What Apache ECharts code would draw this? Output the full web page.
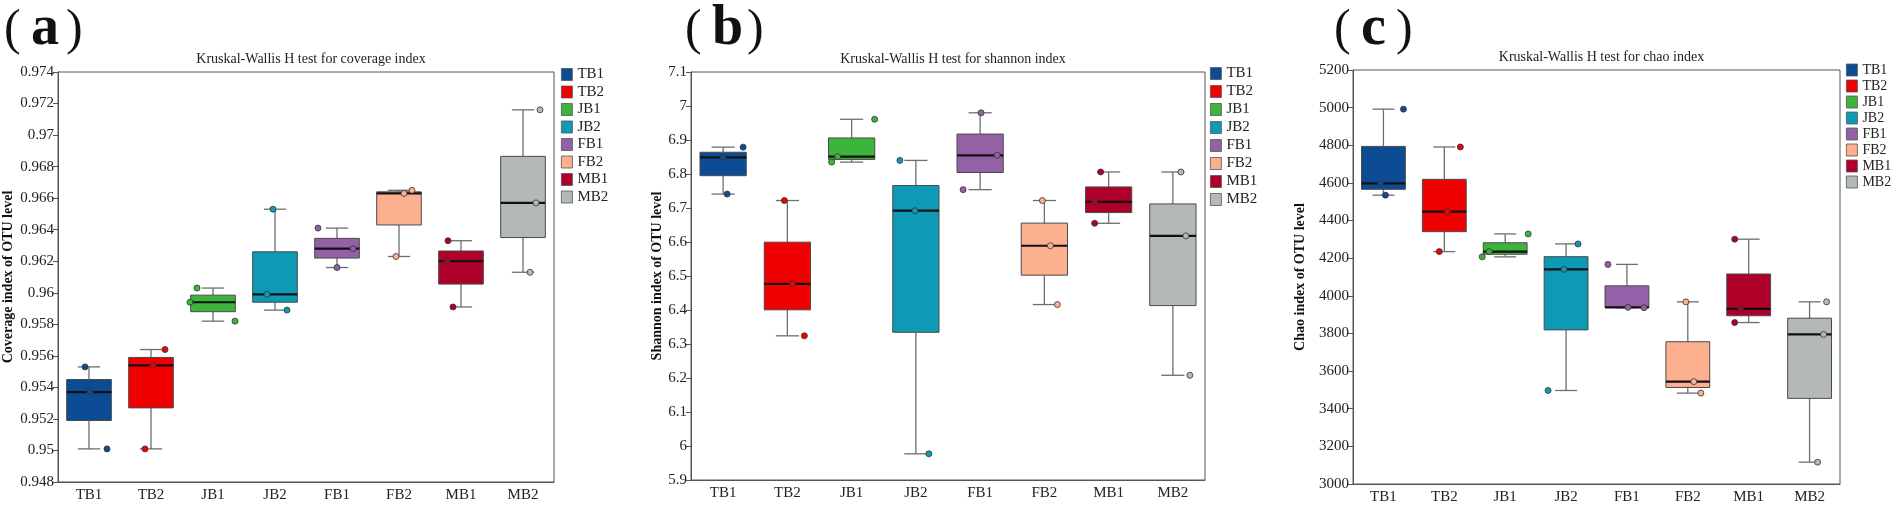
<!DOCTYPE html>
<html>
<head>
<meta charset="utf-8">
<title>Kruskal-Wallis H test</title>
<script src="https://cdn.jsdelivr.net/npm/echarts@6/dist/echarts.min.js"></script>
<style>
  html, body { margin: 0; padding: 0; background: #fff; }
  #main { width: 1901px; height: 507px; }
</style>
</head>
<body>
<div id="main"></div>
<script>
// groups shown on every x axis
var groups = ["TB1", "TB2", "JB1", "JB2", "FB1", "FB2", "MB1", "MB2"];

// box values: [min, Q1, median, Q3, max]
var coverageBox = [
  [0.9501, 0.9519, 0.9537, 0.9545, 0.9553],
  [0.9501, 0.9527, 0.9554, 0.9559, 0.9564],
  [0.9582, 0.9588, 0.9594, 0.95985, 0.9603],
  [0.9589, 0.9594, 0.9599, 0.9626, 0.9653],
  [0.9616, 0.9622, 0.9628, 0.96345, 0.9641],
  [0.9623, 0.9643, 0.9663, 0.9664, 0.9665],
  [0.9591, 0.96055, 0.9620, 0.96265, 0.9633],
  [0.9613, 0.9635, 0.9657, 0.96865, 0.9716]
];
// single samples (3 per group)
var coveragePoints = [
  [0.9501, 0.9537, 0.9553],
  [0.9501, 0.9554, 0.9564],
  [0.9582, 0.9594, 0.9603],
  [0.9589, 0.9599, 0.9653],
  [0.9616, 0.9628, 0.9641],
  [0.9623, 0.9663, 0.9665],
  [0.9591, 0.9620, 0.9633],
  [0.9613, 0.9657, 0.9716]
];

var shannonBox = [
  [6.741, 6.795, 6.849, 6.864, 6.879],
  [6.324, 6.4005, 6.477, 6.5995, 6.722],
  [6.835, 6.843, 6.851, 6.906, 6.961],
  [5.977, 6.3345, 6.692, 6.766, 6.840],
  [6.754, 6.8045, 6.855, 6.9175, 6.980],
  [6.416, 6.5025, 6.589, 6.6555, 6.722],
  [6.655, 6.6865, 6.718, 6.762, 6.806],
  [6.208, 6.413, 6.618, 6.712, 6.806]
];
var shannonPoints = [
  [6.741, 6.849, 6.879],
  [6.324, 6.477, 6.722],
  [6.835, 6.851, 6.961],
  [5.977, 6.692, 6.840],
  [6.754, 6.855, 6.980],
  [6.416, 6.589, 6.722],
  [6.655, 6.718, 6.806],
  [6.208, 6.618, 6.806]
];

var chaoBox = [
  [4535, 4566, 4597, 4794, 4992],
  [4235, 4341, 4447, 4619, 4791],
  [4207, 4221, 4235, 4282, 4329],
  [3497, 3819, 4141, 4208, 4276],
  [3937, 3938, 3939, 4053, 4167],
  [3483, 3513, 3544, 3756, 3968],
  [3858, 3894, 3931, 4116, 4301],
  [3116, 3455, 3795, 3881, 3968]
];
var chaoPoints = [
  [4535, 4597, 4992],
  [4235, 4447, 4791],
  [4207, 4235, 4329],
  [3497, 4141, 4276],
  [3937, 3939, 4167],
  [3483, 3544, 3968],
  [3858, 3931, 4301],
  [3116, 3795, 3968]
];

// y axis ticks
var coverageTicks = { min: 0.948, max: 0.974, interval: 0.002 };
var shannonTicks = { min: 5.9, max: 7.1, interval: 0.1 };
var chaoTicks = { min: 3000, max: 5200, interval: 200 };

// --- styling ---
var palette = ["#0b4c94", "#f00000", "#3db53d", "#0e9ab4", "#9460a8", "#fcb08f", "#ae0029", "#b3b9b9"];
// horizontal jitter of the sample dots, px
var coverageJitter = [[18, 1, -4], [-6, 2, 14], [22, -23, -16], [12, -8, -2], [0, 16, -19], [-3, 5, 13], [-8, -14, -13], [7, 13, 17]];
var shannonJitter = [[4, 0, 20], [17, 5, -3], [-20, -14, 23], [13, -1, -16], [-17, 17, 1], [13, 6, -2], [-14, -14, -8], [17, 13, 8]];
var chaoJitter = [[2, -3, 20], [-5, 3, 16], [-23, -16, 23], [-18, -2, 12], [17, 1, -19], [13, 6, -2], [-14, -8, -14], [8, 14, 17]];

var serif = "'Liberation Serif', 'DejaVu Serif', serif";
var axisColor = "#555";

var panels = [
  { title: "Kruskal-Wallis H test for coverage index", yName: "Coverage index of OTU level", nameGap: 43,
    box: coverageBox, points: coveragePoints, jitter: coverageJitter, ticks: coverageTicks, digits: 3,
    grid: { left: 58, top: 72, width: 496, height: 410 },
    legend: { left: 561, top: 67, gap: 2.5, size: 15 }, tag: "a", tagX: 4 },
  { title: "Kruskal-Wallis H test for shannon index", yName: "Shannon index of OTU level", nameGap: 24,
    box: shannonBox, points: shannonPoints, jitter: shannonJitter, ticks: shannonTicks, digits: 1,
    grid: { left: 691, top: 72, width: 514, height: 408 },
    legend: { left: 1210, top: 66, gap: 3, size: 15 }, tag: "b", tagX: 685 },
  { title: "Kruskal-Wallis H test for chao index", yName: "Chao index of OTU level", nameGap: 46,
    box: chaoBox, points: chaoPoints, jitter: chaoJitter, ticks: chaoTicks, digits: 0,
    grid: { left: 1353, top: 70, width: 487, height: 414 },
    legend: { left: 1846, top: 63, gap: 2, size: 14 }, tag: "c", tagX: 1334 }
];

function renderBox(params, api) {
  var i = api.value(0);
  var top = api.coord([i, api.value(5)]);
  var q3 = api.coord([i, api.value(4)])[1];
  var med = api.coord([i, api.value(3)])[1];
  var q1 = api.coord([i, api.value(2)])[1];
  var bot = api.coord([i, api.value(1)])[1];
  var x = top[0];
  var w = api.size([1, 0])[0] * 0.72;
  var cap = w * 0.25;
  function whisker() { return { stroke: "#6e6e6e", lineWidth: 1.3 }; }
  return {
    type: "group",
    children: [
      { type: "line", shape: { x1: x, y1: top[1], x2: x, y2: q3 }, style: whisker() },
      { type: "line", shape: { x1: x, y1: q1, x2: x, y2: bot }, style: whisker() },
      { type: "line", shape: { x1: x - cap, y1: top[1], x2: x + cap, y2: top[1] }, style: whisker() },
      { type: "line", shape: { x1: x - cap, y1: bot, x2: x + cap, y2: bot }, style: whisker() },
      { type: "rect", shape: { x: x - w / 2, y: q3, width: w, height: q1 - q3 },
        style: { fill: palette[params.dataIndex], stroke: "#4a4a4a", lineWidth: 1 } },
      { type: "line", shape: { x1: x - w / 2, y1: med, x2: x + w / 2, y2: med },
        style: { stroke: "#111", lineWidth: 2.2 } }
    ]
  };
}

var option = {
  animation: false,
  backgroundColor: "#fff",
  title: [],
  legend: [],
  grid: [],
  xAxis: [],
  yAxis: [],
  series: [],
  graphic: []
};

panels.forEach(function (p, k) {
  var g = p.grid;
  option.grid.push({ left: g.left, top: g.top, width: g.width, height: g.height,
    show: true, borderColor: axisColor, borderWidth: 1, backgroundColor: "transparent" });

  option.title.push({
    text: p.title, left: g.left + g.width / 2, top: g.top - 25, textAlign: "center",
    textStyle: { fontFamily: serif, fontSize: 14, fontWeight: "normal", color: "#222" }
  });

  option.xAxis.push({
    type: "category", gridIndex: k, data: groups,
    axisLine: { lineStyle: { color: axisColor, width: 1 } },
    axisTick: { alignWithLabel: true, length: 5, lineStyle: { color: axisColor } },
    axisLabel: { fontFamily: serif, fontSize: 15, color: "#222", margin: 6 },
    splitLine: { show: false }
  });

  option.yAxis.push({
    type: "value", gridIndex: k,
    min: p.ticks.min, max: p.ticks.max, interval: p.ticks.interval,
    name: p.yName, nameLocation: "middle", nameGap: p.nameGap,
    nameTextStyle: { fontFamily: serif, fontSize: 14, fontWeight: "bold", color: "#111" },
    axisLine: { show: true, lineStyle: { color: axisColor, width: 1 } },
    axisTick: { show: true, length: 5, lineStyle: { color: axisColor } },
    axisLabel: {
      fontFamily: serif, fontSize: 15, color: "#222", margin: 4,
      formatter: (function (d) { return function (v) { return String(+v.toFixed(d)); }; })(p.digits)
    },
    splitLine: { show: false }
  });

  option.series.push({
    type: "custom", xAxisIndex: k, yAxisIndex: k,
    renderItem: renderBox,
    encode: { x: 0, y: [1, 2, 3, 4, 5] },
    data: p.box.map(function (b, i) { return [i].concat(b); }),
    z: 2
  });

  var dots = [];
  p.points.forEach(function (vals, i) {
    vals.forEach(function (v, j) {
      dots.push({
        value: [i, v],
        symbolOffset: [p.jitter[i][j], 0],
        itemStyle: { color: palette[i] }
      });
    });
  });
  option.series.push({
    type: "scatter", xAxisIndex: k, yAxisIndex: k,
    symbol: "circle", symbolSize: 6,
    itemStyle: { borderColor: "#333", borderWidth: 0.8, opacity: 1 },
    data: dots, z: 4
  });

  option.legend.push({
    data: groups, orient: "vertical", left: p.legend.left, top: p.legend.top, padding: 0,
    icon: "rect", itemWidth: 11, itemHeight: 12, itemGap: p.legend.gap, itemTextGap: 2,
    selectedMode: false,
    itemStyle: { borderColor: "#555", borderWidth: 0.8 },
    textStyle: { fontFamily: serif, fontSize: p.legend.size, color: "#222" }
  });

  // panel tag "(a)" etc.
  option.graphic.push(
    { type: "text", left: p.tagX, top: 6, style: { text: "(", font: "normal 50px " + serif, fill: "#111" } },
    { type: "text", left: p.tagX + 27, top: 2, style: { text: p.tag, font: "bold 56px " + serif, fill: "#111" } },
    { type: "text", left: p.tagX + 62, top: 6, style: { text: ")", font: "normal 50px " + serif, fill: "#111" } }
  );
});

// legend entries (empty series, only carry names and colours)
groups.forEach(function (name, i) {
  option.series.push({ type: "bar", name: name, xAxisIndex: 0, yAxisIndex: 0, data: [],
    itemStyle: { color: palette[i] } });
});

var myChart = echarts.init(document.getElementById("main"));
myChart.setOption(option);
</script>
</body>
</html>
